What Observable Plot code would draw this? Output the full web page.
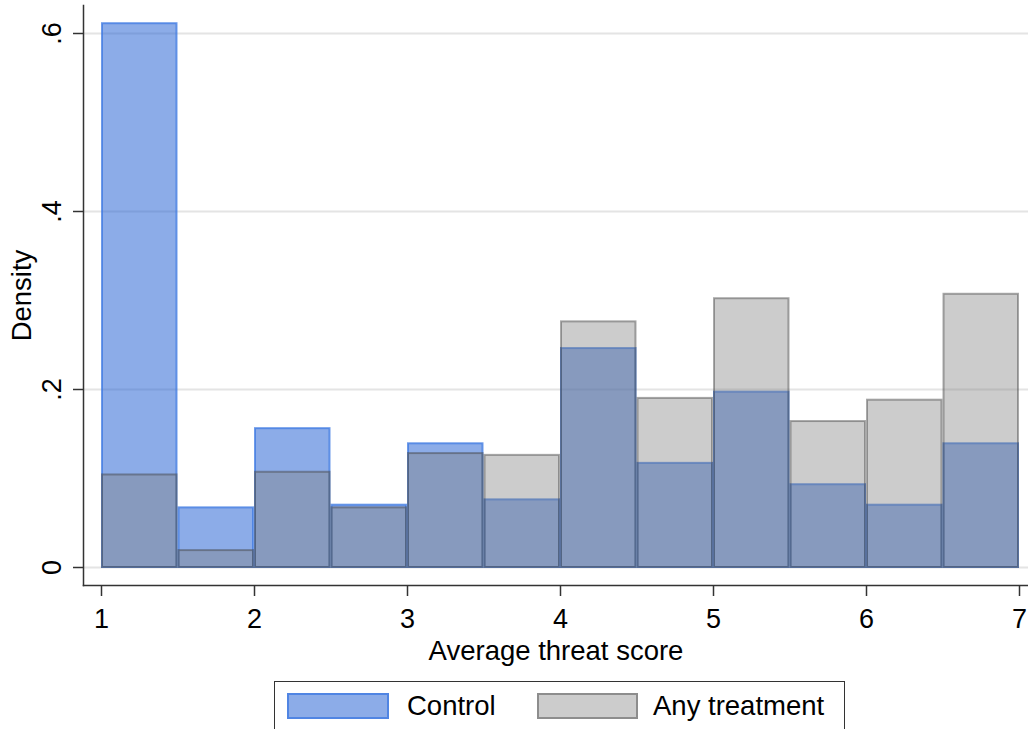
<!DOCTYPE html>
<html>
<head>
<meta charset="utf-8">
<script src="https://cdn.jsdelivr.net/npm/d3@7"></script>
<script src="https://cdn.jsdelivr.net/npm/@observablehq/plot@0.6"></script>
<style>
  html, body { margin: 0; padding: 0; background: #fff; }
  body { font-family: "Liberation Sans", Arial, sans-serif; width: 1028px; height: 729px; overflow: hidden; }
  #chart svg { display: block; }
  #legend {
    position: relative;
    margin-left: 274px; margin-top: 11px;
    width: 571px; height: 70px; box-sizing: border-box;
    border: 1.5px solid #333;
    font-size: 27.5px; color: #000;
  }
  .sw { position: absolute; top: 11px; height: 26px; box-sizing: border-box; border-width: 2px; border-style: solid; }
  .lb { position: absolute; top: 10px; line-height: 28px; white-space: nowrap; }
</style>
</head>
<body>
<div id="chart"></div>
<div id="legend"></div>
<script>
// ---- data ----
const binEdges = [1, 1.5, 2, 2.5, 3, 3.5, 4, 4.5, 5, 5.5, 6, 6.5, 7];
const controlDensity   = [0.611, 0.067, 0.156, 0.070, 0.139, 0.076, 0.246, 0.117, 0.197, 0.093, 0.070, 0.139];
const treatmentDensity = [0.104, 0.019, 0.107, 0.067, 0.128, 0.126, 0.276, 0.190, 0.302, 0.164, 0.188, 0.307];
const xTicks = [1, 2, 3, 4, 5, 6, 7];
const yTicks = [0, 0.2, 0.4, 0.6];
const yTickLabels = ["0", ".2", ".4", ".6"];
const seriesNames = ["Control", "Any treatment"];
const xTitle = "Average threat score";
const yTitle = "Density";

// ---- styles ----
const FONT = "'Liberation Sans', Arial, sans-serif";
const FS = 27;
const blueFill = "rgb(25,89,209)", blueFillOp = 0.5;
const blueStroke = "rgb(60,120,225)", blueStrokeOp = 0.75;
const grayFill = "rgb(128,128,128)", grayFillOp = 0.4;
const grayStroke = "rgb(64,64,64)", grayStrokeOp = 0.45;

const rows = binEdges.slice(0, -1).map((x0, i) => ({
  x0, x1: binEdges[i + 1], control: controlDensity[i], treatment: treatmentDensity[i]
}));

const chart = Plot.plot({
  width: 1028, height: 670,
  marginLeft: 83, marginRight: 0, marginTop: 5, marginBottom: 85,
  x: {domain: [1, 7], insetLeft: 18, insetRight: 9},
  y: {domain: [0, 0.6], insetTop: 28, insetBottom: 18},
  style: {fontFamily: FONT, fontSize: FS + "px", color: "#000", background: "#fff"},
  marks: [
    Plot.gridY(yTicks, {stroke: "#e4e4e4", strokeOpacity: 1, strokeWidth: 2}),
    Plot.rectY(rows, {x1: "x0", x2: "x1", y: "control", fill: blueFill, fillOpacity: blueFillOp,
      stroke: blueStroke, strokeOpacity: blueStrokeOp, strokeWidth: 2, insetLeft: 1, insetRight: 1}),
    Plot.rectY(rows, {x1: "x0", x2: "x1", y: "treatment", fill: grayFill, fillOpacity: grayFillOp,
      stroke: grayStroke, strokeOpacity: grayStrokeOp, strokeWidth: 2, insetLeft: 1, insetRight: 1}),
    Plot.frame({anchor: "left", stroke: "#333", strokeWidth: 1.5}),
    Plot.frame({anchor: "bottom", stroke: "#333", strokeWidth: 1.5}),
    Plot.axisX(xTicks, {tickSize: 11, tickPadding: 12, stroke: "#333", strokeWidth: 1.5, fontSize: FS, label: null, tickFormat: d => String(d)}),
    Plot.axisY(yTicks, {tickSize: 10, stroke: "#333", strokeWidth: 1.5, tickFormat: () => "", label: null}),
    Plot.text(yTicks, {y: d => d, text: (d, i) => yTickLabels[i], frameAnchor: "left", rotate: -90,
      textAnchor: "middle", lineAnchor: "middle", dx: -31, fontSize: FS, fill: "#000"}),
    Plot.text([xTitle], {frameAnchor: "bottom", textAnchor: "middle", lineAnchor: "middle", dy: 66, fontSize: 27.5, fill: "#000"}),
    Plot.text([yTitle], {frameAnchor: "left", rotate: -90, textAnchor: "middle", lineAnchor: "middle", dx: -61.5, fontSize: 27.5, fill: "#000"})
  ]
});
document.getElementById("chart").appendChild(chart);

// ---- legend ----
const legend = document.getElementById("legend");
const items = [
  {name: seriesNames[0], swLeft: 12, swW: 102, lbLeft: 132,
   bg: `rgba(25,89,209,${blueFillOp})`, bd: `rgba(60,120,225,${blueStrokeOp})`},
  {name: seriesNames[1], swLeft: 262, swW: 101, lbLeft: 378,
   bg: `rgba(128,128,128,${grayFillOp})`, bd: `rgba(64,64,64,${grayStrokeOp})`}
];
for (const it of items) {
  const sw = document.createElement("div");
  sw.className = "sw";
  sw.style.left = it.swLeft + "px"; sw.style.width = it.swW + "px";
  sw.style.background = it.bg; sw.style.borderColor = it.bd;
  legend.appendChild(sw);
  const lb = document.createElement("div");
  lb.className = "lb"; lb.style.left = it.lbLeft + "px";
  lb.textContent = it.name;
  legend.appendChild(lb);
}
</script>
</body>
</html>
